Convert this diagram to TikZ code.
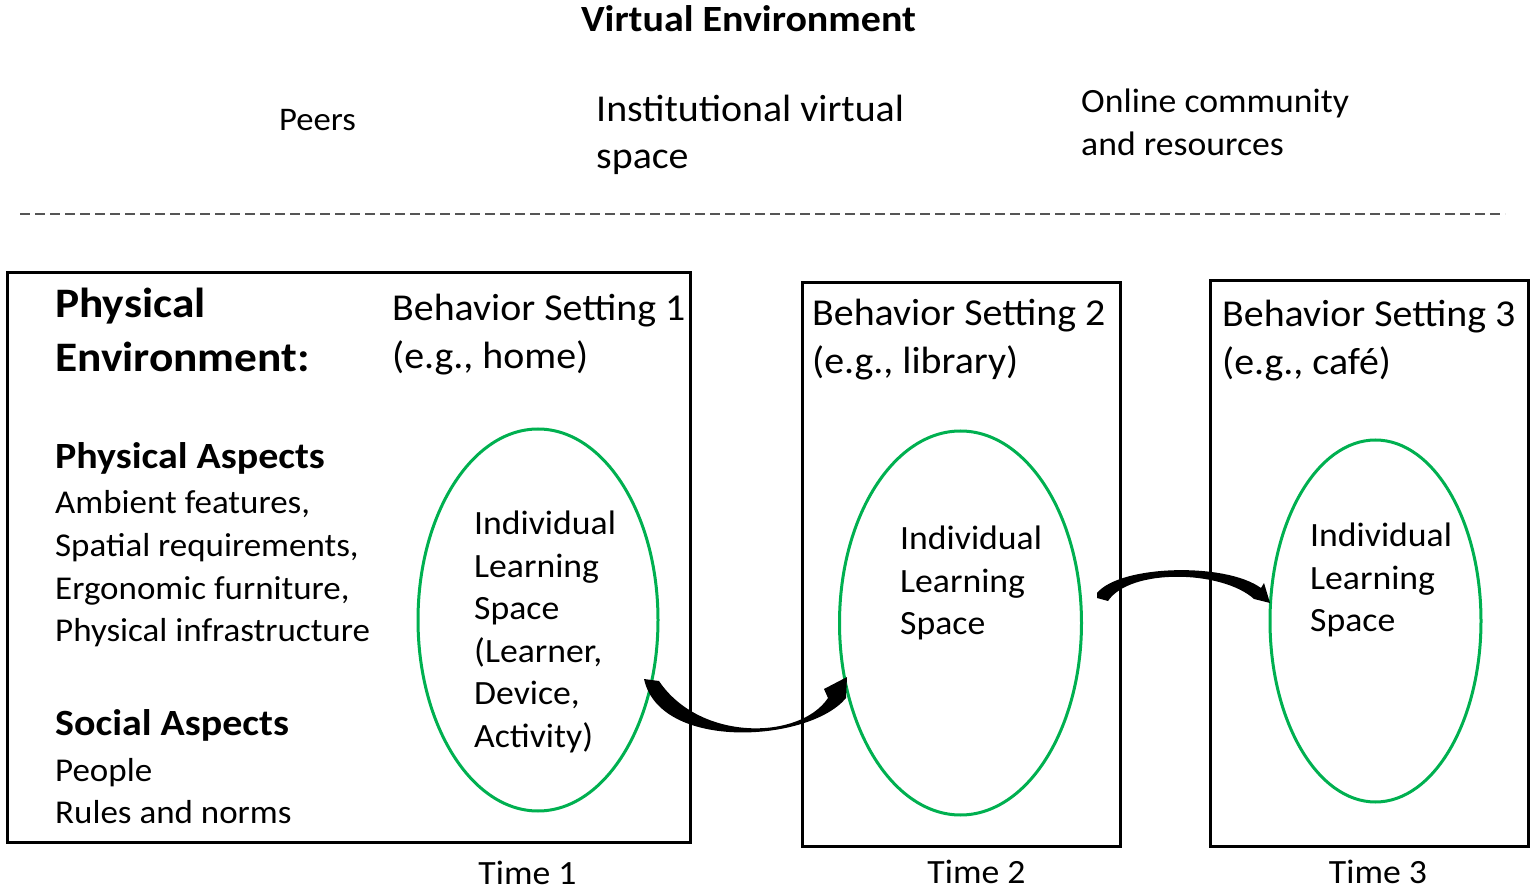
\documentclass[tikz,border=0pt]{standalone}
\usepackage{fontspec}
\setmainfont{Carlito}[FakeStretch=1.05, BoldFeatures={FakeStretch=1.08}]
\usetikzlibrary{shapes.geometric}
\definecolor{egreen}{RGB}{0,176,80}
\definecolor{dashgray}{RGB}{85,85,85}
\begin{document}
\begin{tikzpicture}[x=1pt,y=-1pt,
  body/.style={anchor=base west, inner sep=0pt, font=\fontsize{34}{41}\selectfont},
  listl/.style={anchor=base west, inner sep=0pt, font=\fontsize{33.3}{40}\selectfont},
  bsl/.style={anchor=base west, inner sep=0pt, font=\fontsize{38}{46}\selectfont},
  head/.style={anchor=base west, inner sep=0pt, font=\bfseries\fontsize{37}{45}\selectfont},
  bigbold/.style={anchor=base west, inner sep=0pt, font=\bfseries\fontsize{42}{50}\selectfont},
  timel/.style={anchor=base, inner sep=0pt, font=\fontsize{34}{41}\selectfont},
  setbox/.style={draw=black, line width=3pt, inner sep=0pt},
  ils/.style={ellipse, draw=egreen, line width=3pt, inner sep=0pt},
  taperarrow/.style={fill=black}]
\useasboundingbox (0,0) rectangle (1535,890);

% Virtual environment
\node[anchor=base, inner sep=0pt, font=\bfseries\fontsize{37}{45}\selectfont] (ve) at (748.5,32) {Virtual Environment};
\node[body, font=\fontsize{33}{40}\selectfont] (peers) at (279,131) {Peers};
\node[bsl] (inst1) at (596,122) {Institutional virtual};
\node[bsl] (inst2) at (596,169) {space};
\node[body] (on1) at (1081,113) {Online community};
\node[body] (on2) at (1081,156) {and resources};

% dashed divider
\coordinate (dl) at (20,214);
\coordinate (dr) at (1505,214);
\draw[dashgray, line width=2.2pt, dash pattern=on 10pt off 5pt] (dl) -- (dr);

% behaviour setting boxes
\node[setbox, minimum width=683pt, minimum height=569pt] (b1) at (348.5,557.5) {};
\node[setbox, minimum width=318pt, minimum height=563pt] (b2) at (961,564.5) {};
\node[setbox, minimum width=318pt, minimum height=565pt] (b3) at (1369,563.5) {};

% ellipses
\node[ils, minimum width=240pt, minimum height=382pt] (e1) at (538,620) {};
\node[ils, minimum width=242pt, minimum height=384pt] (e2) at (960.5,623) {};
\node[ils, minimum width=211pt, minimum height=362pt] (e3) at (1375.5,621) {};

% physical environment text
\node[bigbold] (pe1) at (55,318) {Physical};
\node[bigbold] (pe2) at (55,372) {Environment:};
\node[head] (pa) at (55,469) {Physical Aspects};
\node[listl] (pa1) at (55,514) {Ambient features,};
\node[listl] (pa2) at (55,556) {Spatial requirements,};
\node[listl] (pa3) at (55,599) {Ergonomic furniture,};
\node[listl] (pa4) at (55,641) {Physical infrastructure};
\node[head] (sa) at (55,735) {Social Aspects};
\node[listl] (sa1) at (55,781) {People};
\node[listl] (sa2) at (55,823) {Rules and norms};

% setting labels
\node[bsl] (bs1a) at (392,321) {Behavior Setting 1};
\node[bsl] (bs1b) at (392,369) {(e.g., home)};
\node[bsl] (bs2a) at (812,326) {Behavior Setting 2};
\node[bsl] (bs2b) at (812,374) {(e.g., library)};
\node[bsl] (bs3a) at (1222,327) {Behavior Setting 3};
\node[bsl] (bs3b) at (1222,375) {(e.g., café)};

% ellipse texts
\node[body] (i1a) at (474,534) {Individual};
\node[body] (i1b) at (474,577) {Learning};
\node[body] (i1c) at (474,619) {Space};
\node[body] (i1d) at (474,662) {(Learner,};
\node[body] (i1e) at (474,704) {Device,};
\node[body] (i1f) at (474,747) {Activity)};
\node[body] (i2a) at (900,549) {Individual};
\node[body] (i2b) at (900,592) {Learning};
\node[body] (i2c) at (900,634) {Space};
\node[body] (i3a) at (1310,546) {Individual};
\node[body] (i3b) at (1310,589) {Learning};
\node[body] (i3c) at (1310,631) {Space};

% time labels
\node[timel] (t1) at (527.5,884) {Time 1};
\node[timel] (t2) at (976.5,883) {Time 2};
\node[timel] (t3) at (1378,883) {Time 3};

% tapered curved arrows
\fill[taperarrow] (644,679) -- (659,681) .. controls (700,742) and (800,740) .. (828,698)
  -- (824,689) -- (847,677) -- (846,698)
  .. controls (810,742) and (660,752) .. (644,679) -- cycle;
\fill[taperarrow] (1097,598) -- (1097,593) .. controls (1120,565) and (1225,562) .. (1261,588)
  -- (1264,583) -- (1270,603) -- (1254,599)
  .. controls (1222,570) and (1130,568) .. (1108,601) -- cycle;
\end{tikzpicture}
\end{document}
